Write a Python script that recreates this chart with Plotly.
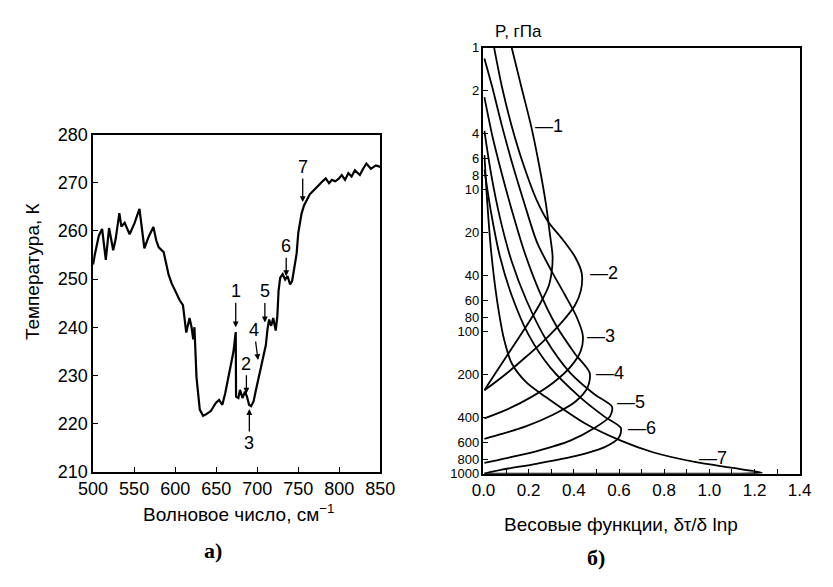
import numpy as np
import plotly.graph_objects as go

# ---------------- panel a) : brightness temperature spectrum ----------------
wavenumber = [500, 502, 507, 511, 515.5, 519.5, 524.5, 527.5, 532, 534.5, 538.5, 544.5,
              550.5, 556.5, 562.5, 568, 573.5, 577, 580, 586, 592, 596, 600, 605.5,
              609.5, 613.5, 617.5, 620, 622, 623.5, 626, 630, 634, 637.5, 643.5, 649.5,
              653.5, 657.5, 661, 665, 669, 671, 673.8, 674.2, 677, 679, 682, 685, 687.5,
              690, 692.5, 695.5, 698.5, 702.5, 705.5, 710.5, 712.5, 714.5, 717, 719.5,
              722.5, 724.5, 726, 728, 731, 734, 737, 740, 742.5, 746, 748, 750, 754, 757,
              760, 764, 768, 772, 775.5, 779.5, 783.5, 787.5, 791, 795, 799, 803, 807,
              811, 815, 819, 825, 829, 833, 838.5, 844.5, 850]
brightness_temp = [253, 255, 259, 260.4, 254, 260.6, 256, 258.3, 263.7, 260.9, 261.7, 259.3,
                   261.6, 264.6, 256.4, 258.9, 260.8, 258, 256.6, 255.6, 250.9, 249, 247.6, 245.6,
                   244.6, 238.9, 241.9, 240, 237.5, 240, 229.6, 222.9, 221.6, 221.9, 222.6, 224.3,
                   224.9, 223.9, 226.3, 229.6, 232.9, 234.9, 239, 225.6, 225.3, 227, 225.3, 226.6, 225.6,
                   223.9, 223.6, 224.6, 227, 230.3, 232.3, 236.3, 239.6, 241.6, 240.3, 241.9,
                   239.3, 242.3, 247.6, 250.3, 251, 249.9, 250.6, 248.9, 249.6, 252.9, 255.3, 259.6, 263.6, 265.3,
                   266.3, 267.6, 268.3, 268.9, 269.6, 270.3, 270.9, 269.9, 270.6, 270.3, 270.8, 271.6, 270.6,
                   272, 271.3, 272.6, 271.6, 272.9, 274, 272.9, 273.6, 273.3]

channel_labels = ["1", "2", "3", "4", "5", "6", "7"]
channel_wn = [673.8, 686.8, 690.4, 701, 709.3, 735.3, 755.4]
channel_T = [240, 226.2, 223, 233.2, 241, 250.6, 266]

temp_ticks = [210, 220, 230, 240, 250, 260, 270, 280]
wn_ticks = [500, 550, 600, 650, 700, 750, 800, 850]

# ---------------- panel б) : weighting functions ----------------
p_ticks = [1, 2, 4, 6, 8, 10, 20, 40, 60, 80, 100, 200, 400, 600, 800, 1000]
wf_ticks = [0.0, 0.2, 0.4, 0.6, 0.8, 1.0, 1.2, 1.4]

wf1_val = [0.125, 0.168, 0.211, 0.246, 0.276, 0.293, 0.306, 0.302, 0.289, 0.254, 0.203, 0.138, 0.073, 0.026, 0.004]
wf1_p = [1, 1.90, 3.57, 6.68, 12.5, 20.0, 29.7, 37.6, 47.5, 62.1, 84.9, 122, 175, 228, 259]

wf2_val = [0.047, 0.082, 0.125, 0.177, 0.233, 0.284, 0.353, 0.405, 0.435, 0.431, 0.405, 0.349, 0.267, 0.181, 0.095, 0.004]
wf2_p = [1, 1.90, 3.57, 6.68, 11.6, 16.6, 22.7, 29.7, 38.8, 51.4, 65.1, 84.9, 116, 154, 201, 259]

wf3_val = [0.004, 0.039, 0.082, 0.129, 0.181, 0.237, 0.302, 0.362, 0.414, 0.440, 0.431, 0.388, 0.310, 0.211, 0.103, 0.004]
wf3_p = [1.19, 1.90, 3.57, 6.68, 12.5, 23.5, 37.6, 55.6, 79.8, 107, 136, 175, 228, 289, 354, 408]

wf4_val = [0.004, 0.039, 0.082, 0.129, 0.181, 0.246, 0.319, 0.405, 0.470, 0.461, 0.405, 0.310, 0.190, 0.082, 0.004]
wf4_p = [2.23, 4.17, 7.81, 14.6, 27.4, 51.4, 89.1, 143, 195, 247, 313, 383, 463, 525, 568]

wf5_val = [0.004, 0.034, 0.073, 0.125, 0.190, 0.276, 0.384, 0.491, 0.569, 0.560, 0.491, 0.384, 0.233, 0.103, 0.004]
wf5_p = [3.86, 7.81, 15.8, 32.1, 60.1, 113, 195, 276, 338, 395, 477, 586, 696, 777, 840]

wf6_val = [0.004, 0.034, 0.073, 0.125, 0.198, 0.297, 0.427, 0.534, 0.608, 0.599, 0.534, 0.405, 0.233, 0.082, 0.004]
wf6_p = [7.22, 14.6, 29.7, 55.6, 104, 180, 289, 395, 477, 559, 653, 753, 853, 938, 998]

wf7_val = [0.004, 0.017, 0.034, 0.060, 0.091, 0.125, 0.190, 0.276, 0.448, 0.608, 0.750, 0.935, 1.095, 1.233, 1.116, 0.707, 0.004]
wf7_p = [5.71, 12.5, 27.4, 60.1, 113, 167, 228, 289, 442, 586, 707, 827, 908, 984, 1000, 1000, 1000]

wf_label_val = [0.22, 0.461, 0.448, 0.491, 0.582, 0.629, 0.944]
wf_label_p = [3.57, 38.9, 107, 195, 313, 477, 777]

curves = [(wf1_val, wf1_p), (wf2_val, wf2_p), (wf3_val, wf3_p), (wf4_val, wf4_p),
          (wf5_val, wf5_p), (wf6_val, wf6_p), (wf7_val, wf7_p)]

# ---------------- figure ----------------
W, H = 833, 587
def px(x):
    return x / W
def py(y):
    return 1 - y / H

TICK_L = dict(family="Liberation Sans, Arial", size=18, color="black")
TICK_R = dict(family="Liberation Sans, Arial", size=17, color="black")
TICK_RY = dict(family="Liberation Sans, Arial", size=13, color="black")
TITLE = dict(family="Liberation Sans, Arial", size=19, color="black")

fig = go.Figure()

fig.add_trace(go.Scatter(x=wavenumber, y=brightness_temp, mode="lines",
                         line=dict(color="black", width=2.2),
                         xaxis="x", yaxis="y", hoverinfo="skip"))

for vals, pres in curves:
    fig.add_trace(go.Scatter(x=vals, y=pres, mode="lines",
                             line=dict(color="black", width=1.8, shape="spline", smoothing=0.8),
                             xaxis="x2", yaxis="y2", hoverinfo="skip"))

arrow_offsets = [(0, -36), (0, -30), (0, 34), (-4, -30), (0, -31), (0, -30), (0, -35)]
annotations = []
for lbl, w, t, (axo, ayo) in zip(channel_labels, channel_wn, channel_T, arrow_offsets):
    annotations.append(dict(x=w, y=t, xref="x", yref="y", text=lbl, showarrow=True,
                            ax=axo, ay=ayo, arrowhead=2, arrowsize=0.9, arrowwidth=1.3,
                            arrowcolor="black", font=dict(family="Liberation Sans, Arial", size=18, color="black")))

for lbl, v, p in zip(channel_labels, wf_label_val, wf_label_p):
    annotations.append(dict(x=v, y=np.log10(p), xref="x2", yref="y2", text="—" + lbl,
                            showarrow=False, xanchor="left", yanchor="middle",
                            font=dict(family="Liberation Sans, Arial", size=18, color="black")))

annotations += [
    dict(x=px(18), y=py(271), xref="paper", yref="paper", text="Температура, К",
         textangle=-90, showarrow=False, font=TITLE, xanchor="center", yanchor="middle"),
    dict(x=px(232), y=py(521), xref="paper", yref="paper", text="Волновое число, см<sup>−1</sup>",
         showarrow=False, font=TITLE, xanchor="center", yanchor="middle"),
    dict(x=px(205), y=py(560), xref="paper", yref="paper", text="<b>а)</b>",
         showarrow=False, font=dict(family="Liberation Serif, Times New Roman", size=22, color="black"),
         xanchor="center", yanchor="middle"),
    dict(x=px(522), y=py(22), xref="paper", yref="paper", text="P, гПа",
         showarrow=False, font=dict(family="Liberation Sans, Arial", size=17, color="black"),
         xanchor="center", yanchor="middle"),
    dict(x=px(629), y=py(533), xref="paper", yref="paper", text="Весовые функции, δτ/δ lnр",
         showarrow=False, font=TITLE, xanchor="center", yanchor="middle"),
    dict(x=px(603), y=py(567), xref="paper", yref="paper", text="<b>б)</b>",
         showarrow=False, font=dict(family="Liberation Serif, Times New Roman", size=22, color="black"),
         xanchor="center", yanchor="middle"),
]

axis_common = dict(showline=True, linecolor="black", linewidth=1.5, mirror=True,
                   showgrid=False, zeroline=False, ticks="inside", tickcolor="black",
                   ticklen=5, tickwidth=1.2)

fig.update_layout(
    width=W, height=H,
    margin=dict(l=0, r=0, t=0, b=0),
    paper_bgcolor="white", plot_bgcolor="white",
    showlegend=False,
    xaxis=dict(domain=[px(81), px(379)], anchor="y", range=[500, 850],
               tickvals=wn_ticks, tickfont=TICK_L, **axis_common),
    yaxis=dict(domain=[py(478), py(129)], anchor="x", range=[210, 280],
               tickvals=temp_ticks, tickfont=TICK_L, **axis_common),
    xaxis2=dict(domain=[px(486), px(814)], anchor="y2", range=[0, 1.4],
                tickvals=wf_ticks, ticktext=[f"{v:.1f}" for v in wf_ticks], tickfont=TICK_R,
                minor=dict(dtick=0.1, ticks="inside", ticklen=5, tickcolor="black"),
                **axis_common),
    yaxis2=dict(domain=[py(480), py(39)], anchor="x2", type="log", range=[3, 0],
                tickvals=p_ticks, ticktext=[str(v) for v in p_ticks], tickfont=TICK_RY,
                **axis_common),
    annotations=annotations,
)

fig.write_html("out.html")
